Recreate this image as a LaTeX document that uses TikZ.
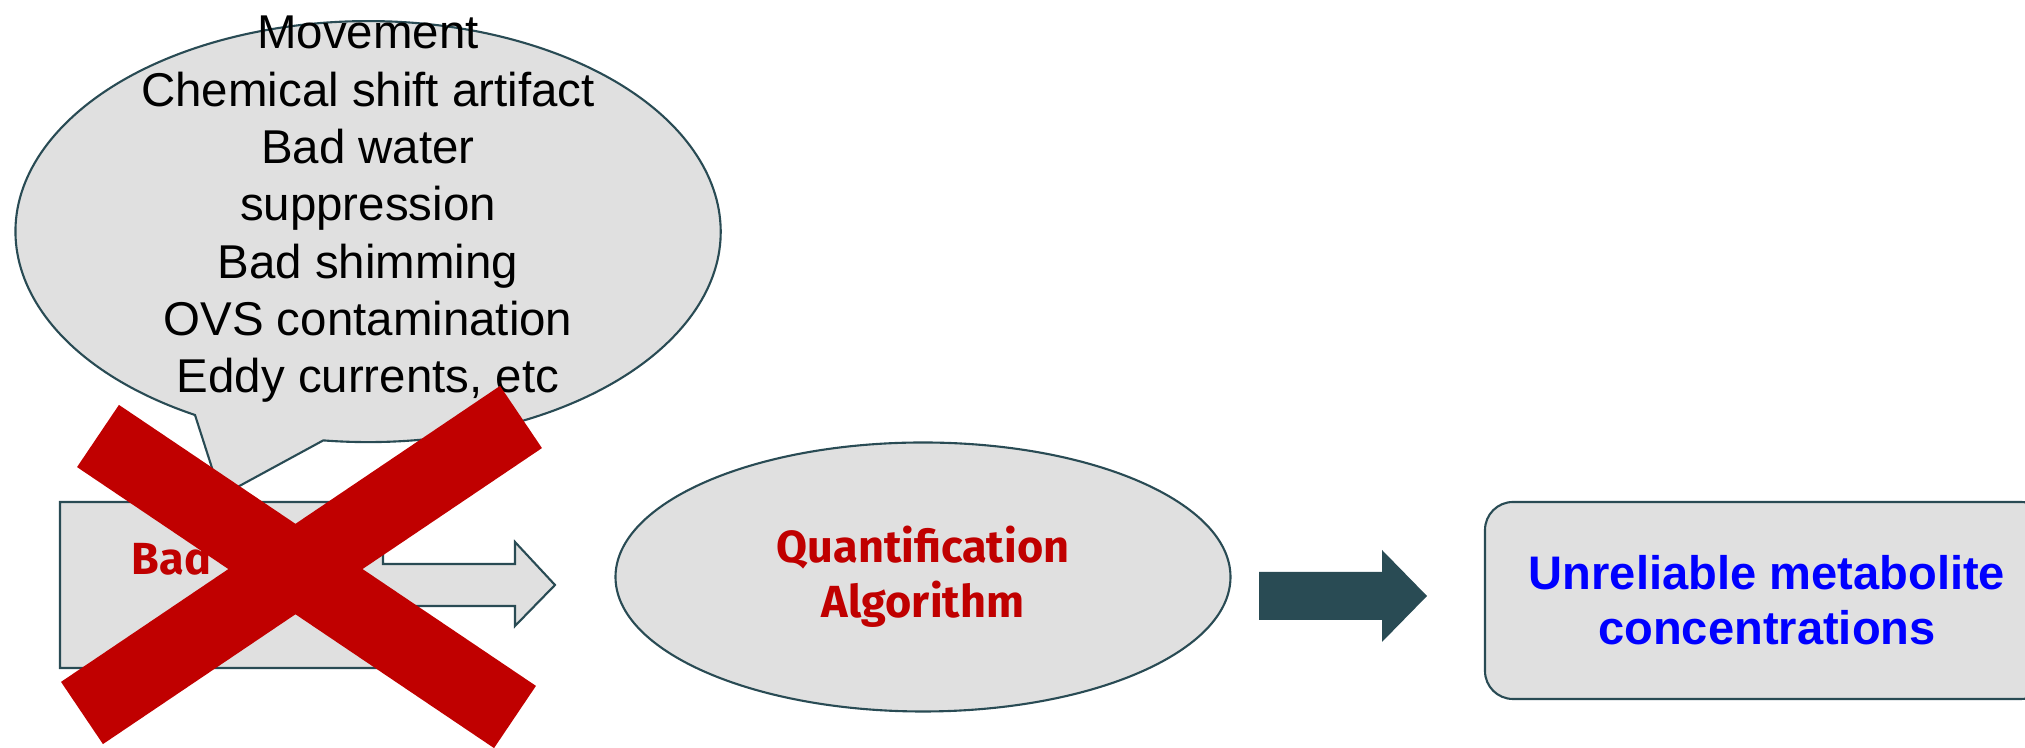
\documentclass[tikz,border=0pt]{standalone}
\usepackage{fontspec}
\setmainfont{Liberation Sans}
\newfontfamily\firasans{Fira Sans}
\usetikzlibrary{shapes, positioning, calc}

\definecolor{crossred}{RGB}{192,0,0}
\definecolor{boxgray}{RGB}{224,224,224}
\definecolor{slate}{RGB}{41,75,84}

\tikzset{
  outline/.style={draw=slate, line width=0.6pt, fill=boxgray},
  causetext/.style={font=\fontsize{13.5}{16}\selectfont, inner sep=0pt, anchor=base},
  redlabel/.style={text=crossred, font=\firasans\bfseries\fontsize{12.8}{15.6}\selectfont, align=center},
  cross/.style={crossred, line width=0.75cm},
}

\begin{document}
\begin{tikzpicture}
\useasboundingbox (0,0) rectangle (20.25,7.48);
\clip (0,0) rectangle (20.25,7.48);

% speech bubble
\coordinate (tailL) at (1.95,3.33);
\coordinate (tip) at (2.21,2.52);
\draw[outline] (tailL) arc[start angle=240.6, end angle=-97.3, x radius=3.526, y radius=2.105] -- (tip) -- cycle;
\foreach \line [count=\i] in {Movement, Chemical shift artifact, Bad water, suppression, Bad shimming, OVS contamination, {Eddy currents, etc}}
  \node[causetext] (cause\i) at (3.68, 7.5633-0.5733*\i) {\line};

% input box with arrow
\draw[outline] (0.60,2.46) -- (3.83,2.46) -- (3.83,1.84) -- (5.15,1.84) -- (5.15,2.06) -- (5.55,1.63)
  -- (5.15,1.22) -- (5.15,1.42) -- (3.83,1.42) -- (3.83,0.80) -- (0.60,0.80) -- cycle;
\node[redlabel, anchor=base west, inner sep=0pt] (bad) at (1.31,1.73) {Bad};

% algorithm
\node[outline, ellipse, minimum width=6.15cm, minimum height=2.69cm, inner sep=0pt, redlabel] (quant) at (9.23,1.71) {Quantification\\Algorithm};

% dark arrow
\fill[slate] (12.59,1.76) -- (13.82,1.76) -- (13.82,1.98) -- (14.27,1.52) -- (13.82,1.06) -- (13.82,1.28) -- (12.59,1.28) -- cycle;

% result
\node[outline, rounded corners=0.28cm, minimum width=5.64cm, minimum height=1.97cm, inner sep=0pt,
  text=blue, font=\bfseries\fontsize{13.4}{15.6}\selectfont, align=center] (result) at (17.67,1.475) {Unreliable metabolite\\concentrations};

% red cross
\draw[cross] (0.98,3.12) -- (5.15,0.31);
\draw[cross] (5.21,3.31) -- (0.82,0.35);
\end{tikzpicture}
\end{document}
